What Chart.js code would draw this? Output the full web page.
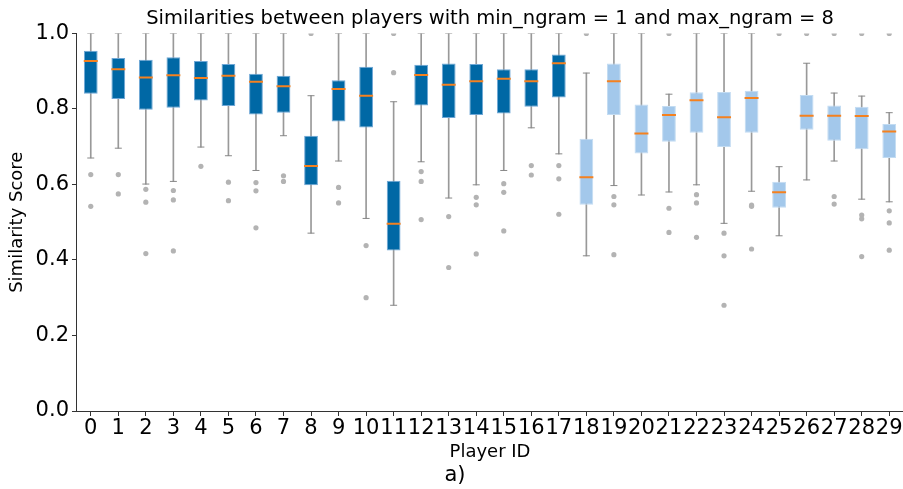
<!DOCTYPE html>
<html>
<head>
<meta charset="utf-8">
<title>Similarities between players</title>
<script src="https://cdn.jsdelivr.net/npm/chart.js@4.4.1/dist/chart.umd.min.js"></script>
<style>
  body { margin: 0; background: #fff; }
  #wrap { width: 903px; height: 489px; position: relative; }
</style>
</head>
<body>
<div id="wrap"><canvas id="myChart"></canvas></div>
<script>
'use strict';

// DANE - one box per player

var players = ['0','1','2','3','4','5','6','7','8','9','10','11','12','13','14',
               '15','16','17','18','19','20','21','22','23','24','25','26','27','28','29'];

var whiskerLow  = [0.670, 0.696, 0.601, 0.608, 0.699, 0.676, 0.637, 0.729, 0.471, 0.662,
                   0.510, 0.280, 0.660, 0.564, 0.599, 0.637, 0.750, 0.681, 0.411, 0.597,
                   0.572, 0.580, 0.599, 0.497, 0.582, 0.464, 0.612, 0.662, 0.561, 0.554];
var q1          = [0.840, 0.826, 0.798, 0.803, 0.822, 0.808, 0.785, 0.790, 0.598, 0.767,
                   0.751, 0.425, 0.809, 0.776, 0.784, 0.788, 0.806, 0.830, 0.546, 0.784,
                   0.682, 0.713, 0.737, 0.699, 0.737, 0.538, 0.745, 0.716, 0.693, 0.670];
var median      = [0.927, 0.905, 0.883, 0.889, 0.882, 0.888, 0.872, 0.860, 0.649, 0.853,
                   0.835, 0.496, 0.890, 0.864, 0.873, 0.880, 0.873, 0.921, 0.619, 0.873,
                   0.735, 0.784, 0.823, 0.778, 0.829, 0.579, 0.782, 0.782, 0.781, 0.740];
var q3          = [0.954, 0.935, 0.930, 0.937, 0.927, 0.919, 0.893, 0.888, 0.729, 0.876,
                   0.912, 0.610, 0.917, 0.920, 0.919, 0.905, 0.905, 0.944, 0.721, 0.920,
                   0.812, 0.808, 0.844, 0.845, 0.848, 0.607, 0.837, 0.809, 0.806, 0.760];
var whiskerHigh = [1.000, 1.000, 1.000, 1.000, 1.000, 1.000, 1.000, 1.000, 0.835, 1.000,
                   1.000, 0.819, 1.000, 1.000, 1.000, 1.000, 1.000, 1.000, 0.895, 1.000,
                   1.000, 0.839, 1.000, 1.000, 1.000, 0.647, 0.921, 0.842, 0.834, 0.790];
var outliers = [
  [0.626, 0.542], [0.626, 0.575], [0.587, 0.553, 0.417], [0.584, 0.559, 0.424], [0.648],
  [0.606, 0.557], [0.605, 0.583, 0.485], [0.623, 0.608], [1.0], [0.592, 0.551],
  [0.438, 0.300], [1.0, 0.896], [0.634, 0.608, 0.507], [0.515, 0.380], [0.566, 0.546, 0.416],
  [0.602, 0.579, 0.477], [0.650, 0.625], [0.650, 0.615, 0.521], [1.0], [0.568, 0.546, 0.414],
  [], [1.0, 0.537, 0.473], [0.573, 0.551, 0.460], [0.471, 0.411, 0.280], [0.545, 0.542, 0.429],
  [1.0], [1.0], [1.0, 0.568, 0.548], [1.0, 0.519, 0.509, 0.409], [1.0, 0.530, 0.498, 0.426]
];
var yTicks = [0.0, 0.2, 0.4, 0.6, 0.8, 1.0];

// players 0-17 dark, the rest light
var FIRST_LIGHT = 18;
var boxFill = players.map(function(p, i) { return i < FIRST_LIGHT ? '#0068a5' : '#a3c8eb'; });
var boxEdge = players.map(function(p, i) { return i < FIRST_LIGHT ? '#6fa7d6' : '#c3dcf2'; });

function points(values) {
  return players.map(function(p, i) { return { x: p, y: values[i] }; });
}

var outlierPoints = [];
outliers.forEach(function(list, i) {
  list.forEach(function(v) { outlierPoints.push({ x: players[i], y: v }); });
});

Chart.defaults.font.family = '"DejaVu Sans", sans-serif';
Chart.defaults.color = '#000';

// title centred over the plot area, not the whole canvas
var titleOverAxes = {
  id: 'titleOverAxes',
  afterLayout: function(chart) {
    if (chart.titleBlock) {
      chart.titleBlock.left = chart.chartArea.left;
      chart.titleBlock.right = chart.chartArea.right;
    }
  }
};

var ctx = document.getElementById('myChart').getContext('2d');

var chart = new Chart(ctx, {
  plugins: [titleOverAxes],
  data: {
    labels: players,
    datasets: [
      {
        // median line
        type: 'line',
        data: points(median),
        showLine: false,
        pointStyle: 'line',
        pointRadius: 7,
        pointHoverRadius: 0,
        pointBorderWidth: 2,
        pointBorderColor: '#f5811f',
        order: 0
      },
      {
        // box q1..q3
        type: 'bar',
        data: players.map(function(p, i) { return [q1[i], q3[i]]; }),
        backgroundColor: boxFill,
        borderColor: boxEdge,
        borderWidth: 1,
        borderSkipped: false,
        grouped: false,
        categoryPercentage: 1,
        barPercentage: 0.5,
        order: 1
      },
      {
        // whisker
        type: 'bar',
        data: players.map(function(p, i) { return [whiskerLow[i], whiskerHigh[i]]; }),
        backgroundColor: '#999999',
        grouped: false,
        barThickness: 1,
        order: 3
      },
      {
        // caps
        type: 'line',
        data: points(whiskerLow).concat(points(whiskerHigh)),
        showLine: false,
        pointStyle: 'line',
        pointRadius: 3.5,
        pointHoverRadius: 0,
        pointBorderWidth: 1,
        pointBorderColor: '#888888',
        order: 2
      },
      {
        // fliers
        type: 'line',
        data: outlierPoints,
        showLine: false,
        pointStyle: 'circle',
        pointRadius: 2.6,
        pointHoverRadius: 0,
        pointBorderWidth: 0,
        pointBackgroundColor: '#b3b3b3',
        clip: 0,
        order: 2
      }
    ]
  },
  options: {
    responsive: true,
    maintainAspectRatio: false,
    animation: false,
    events: [],
    layout: { autoPadding: false, padding: { left: 7, right: 0, top: 0, bottom: 1 } },
    plugins: {
      legend: { display: false },
      tooltip: { enabled: false },
      title: {
        display: true,
        text: 'Similarities between players with min_ngram = 1 and max_ngram = 8',
        font: { size: 19.5, weight: 'normal' },
        padding: { top: 7, bottom: 3 }
      },
      subtitle: {
        display: true,
        position: 'bottom',
        text: 'a)',
        font: { size: 21, weight: 'normal' },
        padding: { top: 0, bottom: 0 }
      }
    },
    scales: {
      x: {
        type: 'category',
        offset: true,
        afterFit: function(scale) {
          scale.paddingLeft = 0;
          scale.paddingRight = 0;
        },
        grid: { offset: false, drawOnChartArea: false, tickLength: 5, color: '#333' },
        border: { color: '#333', width: 1 },
        ticks: { autoSkip: false, maxRotation: 0, font: { size: 21 }, padding: 0 },
        title: { display: true, text: 'Player ID', font: { size: 18 }, padding: { top: 0, bottom: 0 } }
      },
      y: {
        min: 0,
        max: 1,
        afterBuildTicks: function(axis) {
          axis.ticks = yTicks.map(function(v) { return { value: v }; });
        },
        grid: { drawOnChartArea: false, tickLength: 5, color: '#333' },
        border: { color: '#333', width: 1 },
        ticks: {
          font: { size: 21 },
          padding: 3,
          callback: function(v) { return Number(v).toFixed(1); }
        },
        title: { display: true, text: 'Similarity Score', font: { size: 18 }, padding: { top: 0, bottom: 4 } }
      }
    }
  }
});
</script>
</body>
</html>
